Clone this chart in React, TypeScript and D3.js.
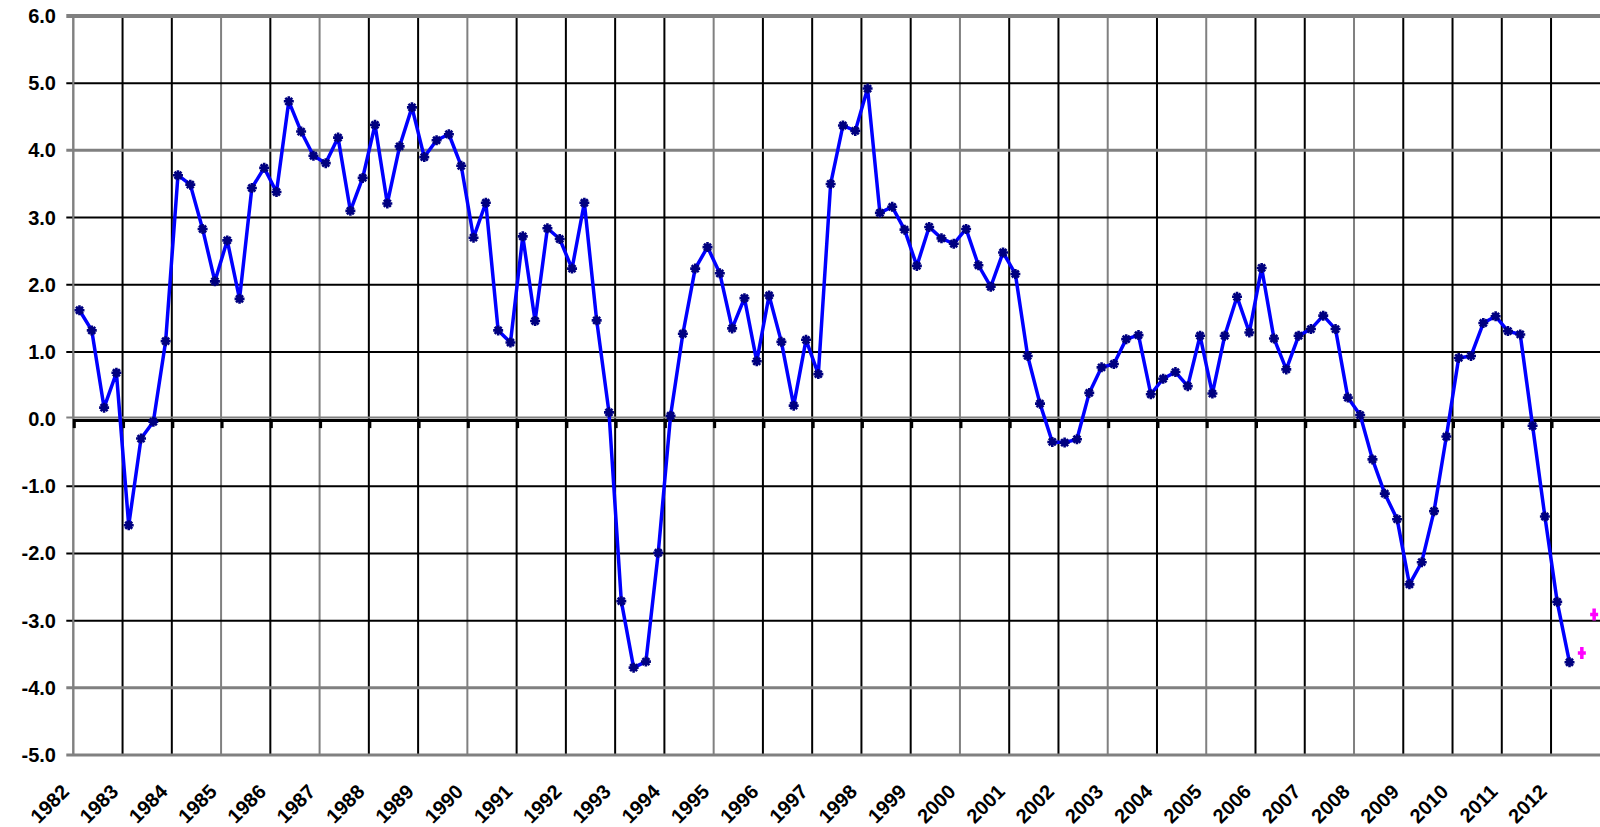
import React from 'react';
import * as d3 from 'd3';

// year tick labels (one gridline per year, quarterly data)
const years = [
  '1982', '1983', '1984', '1985', '1986', '1987', '1988', '1989', '1990', '1991',
  '1992', '1993', '1994', '1995', '1996', '1997', '1998', '1999', '2000', '2001',
  '2002', '2003', '2004', '2005', '2006', '2007', '2008', '2009', '2010', '2011', '2012',
];

// quarterly index values, starting 1982 Q1
const indexValues = [
  1.62, 1.32, 0.17, 0.69, -1.58, -0.29, -0.04, 1.16,
  3.63, 3.49, 2.83, 2.05, 2.66, 1.79, 3.44, 3.74,
  3.38, 4.73, 4.28, 3.92, 3.81, 4.19, 3.10, 3.59,
  4.38, 3.21, 4.06, 4.64, 3.90, 4.15, 4.24, 3.77,
  2.70, 3.22, 1.32, 1.14, 2.72, 1.46, 2.84, 2.68,
  2.24, 3.22, 1.47, 0.10, -2.71, -3.70, -3.61, -1.99,
  0.05, 1.27, 2.24, 2.56, 2.17, 1.35, 1.80, 0.86,
  1.84, 1.15, 0.20, 1.18, 0.67, 3.50, 4.37, 4.29,
  4.92, 3.07, 3.16, 2.82, 2.28, 2.86, 2.69, 2.61,
  2.83, 2.29, 1.97, 2.48, 2.16, 0.94, 0.23, -0.34,
  -0.35, -0.30, 0.39, 0.77, 0.82, 1.19, 1.25, 0.37,
  0.60, 0.70, 0.49, 1.24, 0.38, 1.24, 1.82, 1.29,
  2.25, 1.20, 0.74, 1.24, 1.34, 1.54, 1.34, 0.32,
  0.06, -0.60, -1.11, -1.49, -2.46, -2.13, -1.37, -0.26,
  0.91, 0.94, 1.43, 1.53, 1.31, 1.26, -0.10, -1.45,
  -2.72, -3.62,
];

// two projected quarters shown in magenta
const forecastValues = [-3.48, -2.91];

const yTicks = [6, 5, 4, 3, 2, 1, 0, -1, -2, -3, -4, -5];

// styling: which grid lines came out grey in the original rendering
const greyRows = new Set([6, 4, -4, -5]);
const greyCols = new Set([0, 3, 5, 8, 13, 18, 21, 23, 26]);

const FONT = '"Liberation Sans", Arial, sans-serif';

const App: React.FC = () => {
  const left = 73.3;
  const right = 1600.3;
  const top = 16;
  const bottom = 755;

  const quarters = years.flatMap(yr => ['Q1', 'Q2', 'Q3', 'Q4'].map(q => yr + q));

  const x = d3.scaleBand<string>().domain(quarters).range([left, right]);
  const y = d3.scaleLinear().domain([-5, 6]).range([bottom, top]);
  const cx = (i: number) => (x(quarters[i]) ?? 0) + x.bandwidth() / 2;

  const line = d3.line<number>()
    .x((_, i) => cx(i))
    .y(d => y(d));

  const y0 = y(0);

  const star = (px: number, py: number, r: number) =>
    `M${px - r},${py}L${px + r},${py}M${px},${py - r}L${px},${py + r}` +
    `M${px - r * 0.7},${py - r * 0.7}L${px + r * 0.7},${py + r * 0.7}` +
    `M${px - r * 0.7},${py + r * 0.7}L${px + r * 0.7},${py - r * 0.7}`;

  return (
    <svg
      width={1600}
      height={827}
      style={{ position: 'absolute', left: 0, top: 0, background: '#fff' }}
    >
      {/* vertical grid lines, one per year */}
      {years.map((yr, i) => (
        <line
          key={'v' + yr}
          x1={x(yr + 'Q1')}
          x2={x(yr + 'Q1')}
          y1={top}
          y2={bottom}
          stroke={greyCols.has(i) ? '#808080' : '#000'}
          strokeWidth={2}
        />
      ))}

      {/* horizontal grid lines */}
      {yTicks.map(t => (
        <line
          key={'h' + t}
          x1={left - 7}
          x2={right}
          y1={t === 0 ? y0 - 1.5 : y(t)}
          y2={t === 0 ? y0 - 1.5 : y(t)}
          stroke={greyRows.has(t) || t === 0 ? '#808080' : '#000'}
          strokeWidth={t === 6 ? 4 : greyRows.has(t) ? 3 : 2}
        />
      ))}

      {/* value axis */}
      <line x1={left} x2={left} y1={top} y2={bottom} stroke="#808080" strokeWidth={2} />

      {/* category axis crosses at zero */}
      <line x1={left} x2={right} y1={y0 + 1.5} y2={y0 + 1.5} stroke="#000" strokeWidth={3} />
      {years.map(yr => (
        <line
          key={'t' + yr}
          x1={(x(yr + 'Q1') ?? 0) + 1}
          x2={(x(yr + 'Q1') ?? 0) + 1}
          y1={y0}
          y2={y0 + 9}
          stroke="#000"
          strokeWidth={3}
        />
      ))}

      {/* y labels */}
      {yTicks.map(t => (
        <text
          key={'yl' + t}
          x={56}
          y={y(t)}
          dy="0.35em"
          textAnchor="end"
          fontFamily={FONT}
          fontWeight="bold"
          fontSize={20}
          fill="#000"
        >
          {t.toFixed(1)}
        </text>
      ))}

      {/* x labels */}
      {years.map(yr => {
        const gx = (x(yr + 'Q1') ?? 0) - 3;
        return (
          <text
            key={'xl' + yr}
            transform={`translate(${gx},793) rotate(-45)`}
            textAnchor="end"
            fontFamily={FONT}
            fontWeight="bold"
            fontSize={20}
            fill="#000"
          >
            {yr}
          </text>
        );
      })}

      {/* main series */}
      <path
        d={line(indexValues) ?? ''}
        fill="none"
        stroke="#0000ff"
        strokeWidth={3.5}
        strokeLinejoin="round"
      />
      {indexValues.map((v, i) => (
        <path
          key={'m' + i}
          d={star(cx(i), y(v), 5)}
          stroke="#000080"
          strokeWidth={2.6}
          fill="none"
        />
      ))}

      {/* forecast markers */}
      {forecastValues.map((v, i) => {
        const px = cx(indexValues.length + i);
        const py = y(v);
        return (
          <path
            key={'f' + i}
            d={`M${px - 4},${py}L${px + 4},${py}M${px},${py - 6}L${px},${py + 6}`}
            stroke="#ff00ff"
            strokeWidth={3.5}
            fill="none"
          />
        );
      })}
    </svg>
  );
};

export default App;
